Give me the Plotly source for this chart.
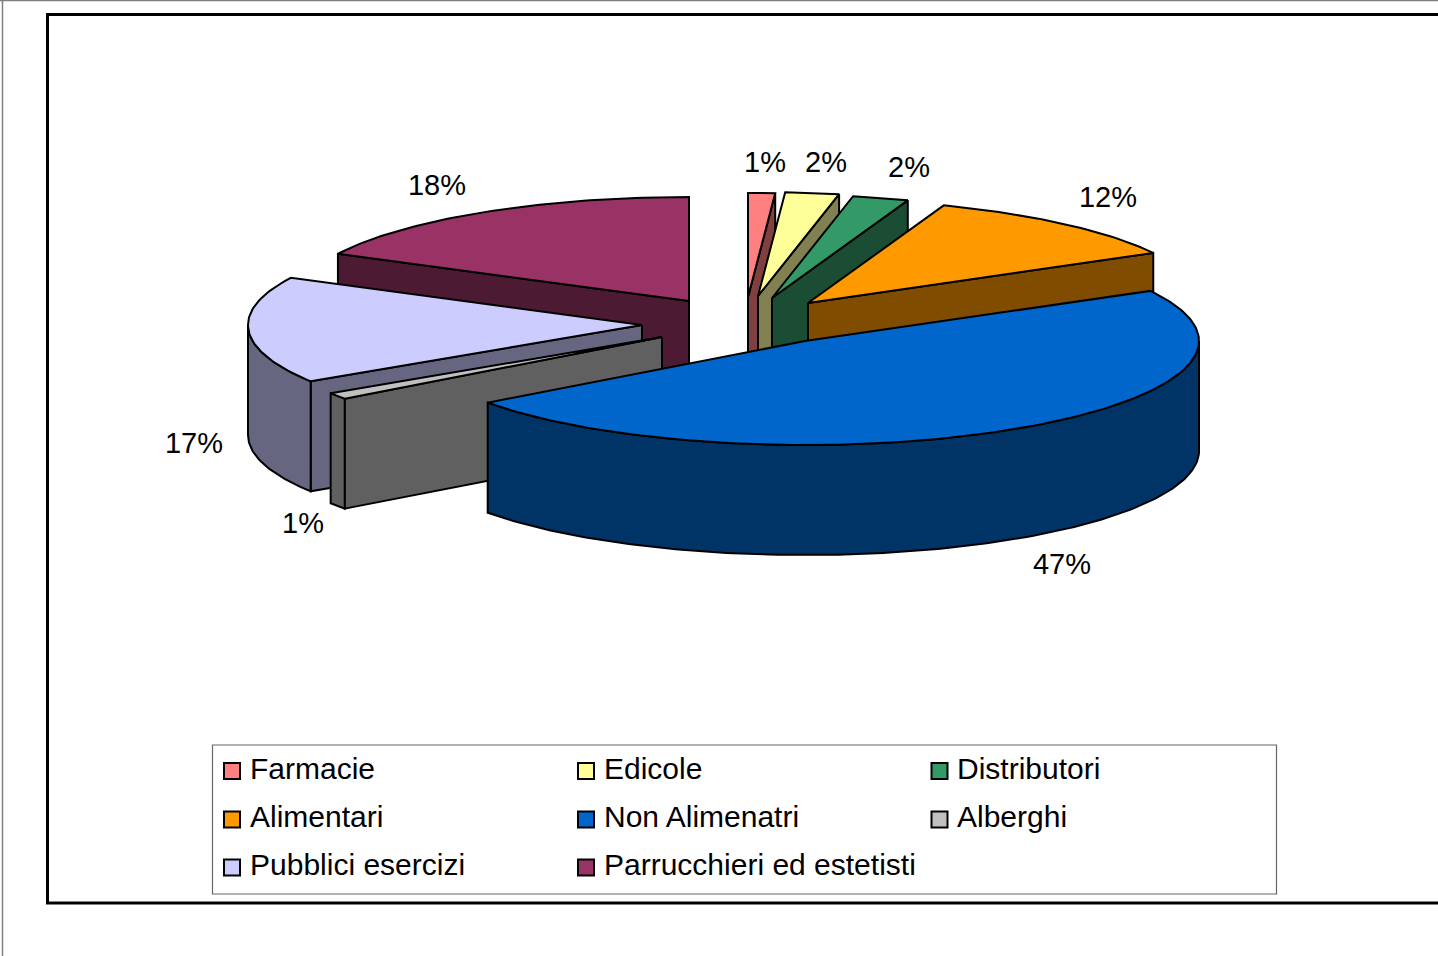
import math
import plotly.graph_objects as go

categories = ["Farmacie", "Edicole", "Distributori", "Alimentari", "Non Alimenatri", "Alberghi", "Pubblici esercizi", "Parrucchieri ed estetisti"]
shares = [1.1, 2.2, 2.3, 11.4, 47.9, 1.0, 16.6, 17.5]
pct_labels = ["1%", "2%", "2%", "12%", "47%", "1%", "17%", "18%"]
top_colors = ["#FF8080", "#FFFF99", "#339966", "#FF9900", "#0066CC", "#C0C0C0", "#CCCCFF", "#993366"]
side_colors = ["#804040", "#808050", "#1A4D33", "#804D00", "#003366", "#606060", "#666680", "#4D1A33"]
label_x = [765, 826, 909, 1108, 1062, 303, 194, 437]
label_y = [165, 165, 170, 200, 567, 526, 446, 188]
apex_x = [748, 758, 772, 808, 805, 662, 642, 689]
apex_y = [297, 296, 298, 303, 341, 337, 325, 301]
draw_order = [7, 0, 1, 2, 3, 6, 5, 4]

RX, RY, DEPTH = 394, 104, 110
W = 1438
H = 956
LINE = dict(color="black", width=2)

fig = go.Figure()


def poly(xs, ys, color):
    fig.add_trace(go.Scatter(x=xs + xs[:1], y=ys + ys[:1], mode="lines", fill="toself",
                             fillcolor=color, line=LINE, showlegend=False, hoverinfo="skip"))


total = sum(shares)
cum = 0.0
bounds = []
for s in shares:
    bounds.append((cum / total * 2 * math.pi, (cum + s) / total * 2 * math.pi))
    cum += s

for i in draw_order:
    a0, a1 = bounds[i]
    ax = apex_x[i]
    ay = apex_y[i]
    n = max(3, int((a1 - a0) * 60))
    angs = [a0 + (a1 - a0) * k / n for k in range(n + 1)]
    px = [ax + RX * math.sin(t) for t in angs]
    py = [ay - RY * math.cos(t) for t in angs]
    # radial cut faces that look toward the viewer
    if math.sin(a0) < -1e-6:
        poly([ax, px[0], px[0], ax], [ay, py[0], py[0] + DEPTH, ay + DEPTH], side_colors[i])
    if math.sin(a1) > 1e-6:
        poly([ax, px[-1], px[-1], ax], [ay, py[-1], py[-1] + DEPTH, ay + DEPTH], side_colors[i])
    # outer rim
    lo, hi = max(a0, math.pi / 2), min(a1, 3 * math.pi / 2)
    if hi > lo:
        m = max(3, int((hi - lo) * 60))
        rim = [lo + (hi - lo) * k / m for k in range(m + 1)]
        rx = [ax + RX * math.sin(t) for t in rim]
        ry = [ay - RY * math.cos(t) for t in rim]
        poly(rx + rx[::-1], ry + [v + DEPTH for v in ry[::-1]], side_colors[i])
    # top
    poly([ax] + px, [ay] + py, top_colors[i])

# percent labels
fig.add_trace(go.Scatter(x=label_x, y=label_y, mode="text", text=pct_labels, showlegend=False,
                         textposition="middle center", hoverinfo="skip",
                         textfont=dict(family="Liberation Sans", size=29, color="black")))

# legend as marks and text in a 3-column grid
LEG_X = [232, 586, 939.5]
LEG_Y = [771, 819.5, 867.5]
for i, name in enumerate(categories):
    fig.add_trace(go.Scatter(x=[LEG_X[i % 3]], y=[LEG_Y[i // 3]], mode="markers", showlegend=False, hoverinfo="skip",
                             marker=dict(symbol="square", size=16, color=top_colors[i], line=dict(color="black", width=2))))
    fig.add_annotation(x=LEG_X[i % 3] + 15.5, y=LEG_Y[i // 3] - 3, text=name, showarrow=False, xanchor="left", yanchor="middle",
                       xref="x", yref="y", font=dict(family="Liberation Sans", size=30, color="black"))

shapes = [
    dict(type="rect", x0=47.5, y0=14.5, x1=W + 20, y1=903, line=dict(color="black", width=3), layer="below"),
    dict(type="rect", x0=212.5, y0=745, x1=1276.5, y1=894, line=dict(color="#666666", width=1.2), layer="below"),
    dict(type="line", x0=2.5, y0=0, x1=2.5, y1=H, line=dict(color="#808080", width=1.5), layer="below"),
    dict(type="line", x0=0, y0=0.5, x1=W, y1=0.5, line=dict(color="#808080", width=1.5), layer="below"),
]

fig.update_layout(
    width=W, height=H, margin=dict(l=0, r=0, t=0, b=0), paper_bgcolor="white", plot_bgcolor="white",
    xaxis=dict(range=[0, W], visible=False, fixedrange=True),
    yaxis=dict(range=[H, 0], visible=False, fixedrange=True),
    shapes=shapes, showlegend=False,
)
fig.write_html("out.html", config=dict(displayModeBar=False),
               post_script="document.body.style.margin='0';document.documentElement.style.overflow='hidden';")
